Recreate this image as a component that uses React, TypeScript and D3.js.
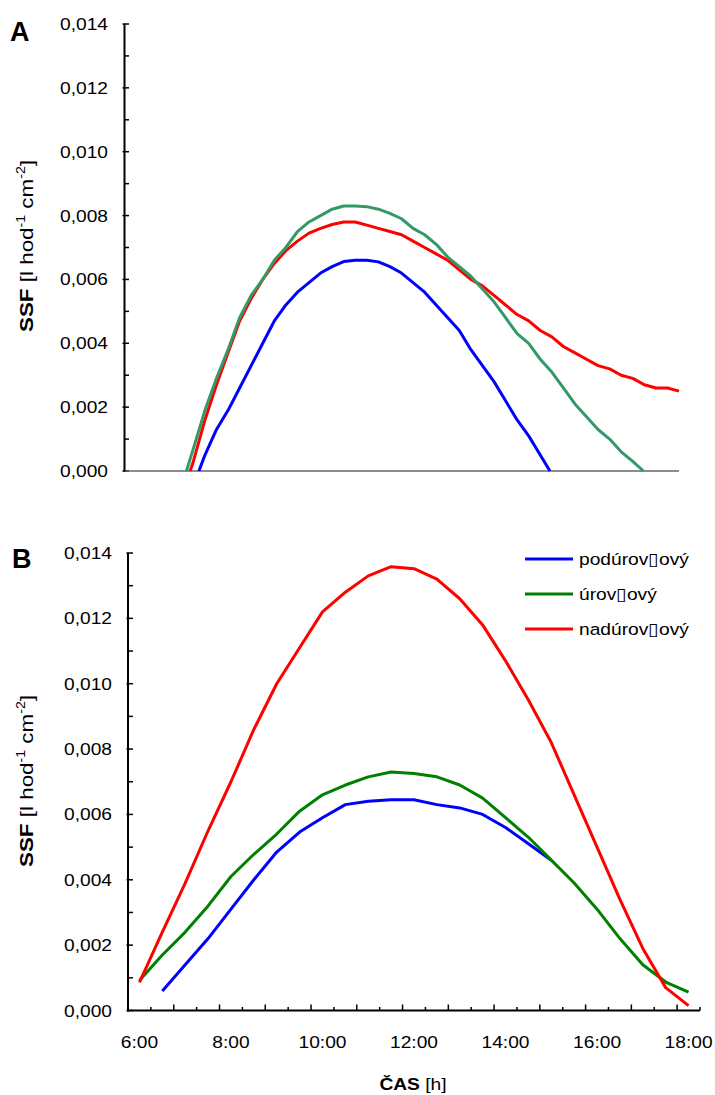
import * as d3 from "d3";
import React from "react";

const FONT = '"Liberation Sans", Arial, Helvetica, sans-serif';

// panel A: dense record, [hour of day, SSF]
const aPodurovny: [number, number][] = [
  [7.62, 0], [7.75, 0.0005], [8.0, 0.0013], [8.25, 0.0019], [8.5, 0.0026], [8.75, 0.0033],
  [9.0, 0.004], [9.25, 0.0047], [9.5, 0.0052], [9.75, 0.0056], [10.0, 0.0059], [10.25, 0.0062],
  [10.5, 0.0064], [10.75, 0.00656], [11.0, 0.0066], [11.25, 0.0066], [11.5, 0.00655],
  [11.75, 0.0064], [12.0, 0.0062], [12.25, 0.0059], [12.5, 0.0056], [12.75, 0.0052],
  [13.0, 0.0048], [13.25, 0.0044], [13.5, 0.0038], [13.75, 0.0033], [14.0, 0.0028],
  [14.25, 0.0022], [14.5, 0.0016], [14.75, 0.0011], [15.0, 0.0005], [15.21, 0],
];
const aUrovny: [number, number][] = [
  [7.35, 0], [7.5, 0.0007], [7.75, 0.0019], [8.0, 0.0029], [8.25, 0.0038], [8.5, 0.0048],
  [8.75, 0.0055], [9.0, 0.006], [9.25, 0.0066], [9.5, 0.007], [9.75, 0.0075], [10.0, 0.0078],
  [10.25, 0.008], [10.5, 0.0082], [10.75, 0.0083], [11.0, 0.0083], [11.25, 0.00828],
  [11.5, 0.0082], [11.75, 0.00807], [12.0, 0.0079], [12.25, 0.0076], [12.5, 0.0074],
  [12.75, 0.0071], [13.0, 0.0067], [13.25, 0.0064], [13.5, 0.0061], [13.75, 0.0057],
  [14.0, 0.0053], [14.25, 0.0048], [14.5, 0.0043], [14.75, 0.004], [15.0, 0.0035],
  [15.25, 0.0031], [15.5, 0.0026], [15.75, 0.0021], [16.0, 0.0017], [16.25, 0.0013],
  [16.5, 0.001], [16.75, 0.0006], [17.0, 0.0003], [17.23, 0],
];
const aNadurovny: [number, number][] = [
  [7.43, 0], [7.5, 0.0003], [7.75, 0.0016], [8.0, 0.0027], [8.25, 0.0037], [8.5, 0.0047],
  [8.75, 0.0054], [9.0, 0.006], [9.25, 0.0065], [9.5, 0.0069], [9.75, 0.0072], [10.0, 0.00745],
  [10.25, 0.0076], [10.5, 0.00772], [10.75, 0.0078], [11.0, 0.0078], [11.25, 0.0077],
  [11.5, 0.0076], [11.75, 0.0075], [12.0, 0.0074], [12.25, 0.0072], [12.5, 0.007],
  [12.75, 0.0068], [13.0, 0.0066], [13.25, 0.0063], [13.5, 0.006], [13.75, 0.0058],
  [14.0, 0.0055], [14.25, 0.0052], [14.5, 0.0049], [14.75, 0.0047], [15.0, 0.0044],
  [15.25, 0.0042], [15.5, 0.0039], [15.75, 0.0037], [16.0, 0.0035], [16.25, 0.0033],
  [16.5, 0.0032], [16.75, 0.003], [17.0, 0.0029], [17.25, 0.0027], [17.5, 0.0026],
  [17.75, 0.0026], [18.0, 0.0025],
];

// panel B: half-hourly categories
const timesB = [
  "6:00", "6:30", "7:00", "7:30", "8:00", "8:30", "9:00", "9:30", "10:00", "10:30", "11:00",
  "11:30", "12:00", "12:30", "13:00", "13:30", "14:00", "14:30", "15:00", "15:30", "16:00",
  "16:30", "17:00", "17:30", "18:00",
];
const bPodurovny: (number | null)[] = [
  null, 0.0006, 0.0014, 0.0022, 0.0031, 0.004, 0.00485, 0.00546, 0.0059, 0.0063, 0.0064,
  0.00645, 0.00645, 0.0063, 0.0062, 0.006, 0.0056, 0.0051, 0.0046,
];
const bUrovny = [
  0.00092, 0.0017, 0.0024, 0.0032, 0.0041, 0.00478, 0.0054, 0.0061, 0.0066, 0.0069, 0.00715,
  0.0073, 0.00725, 0.00715, 0.0069, 0.0065, 0.0059, 0.0053, 0.0046, 0.0039, 0.0031, 0.0022,
  0.0014, 0.00087, 0.00056,
];
const bNadurovny = [
  0.00086, 0.0024, 0.0039, 0.0055, 0.007, 0.0086, 0.01, 0.0111, 0.0122, 0.0128, 0.0133,
  0.01358, 0.01352, 0.0132, 0.0126, 0.0118, 0.0107, 0.0095, 0.0082, 0.0066, 0.005, 0.0034,
  0.0019, 0.0007, 0.00015,
];

const yMajor = [0, 0.002, 0.004, 0.006, 0.008, 0.01, 0.012, 0.014];
const yMinor = [0.001, 0.003, 0.005, 0.007, 0.009, 0.011, 0.013];
const xLabelsB = ["6:00", "8:00", "10:00", "12:00", "14:00", "16:00", "18:00"];
const legendNames = ["podúrov\u25AFový", "úrov\u25AFový", "nadúrov\u25AFový"];

const SX = 1.13; // glyphs in the picture are wider than Arial

const T = (props: any) => {
  const { x, y, rot = 0, anchor = "start", size = 17, weight = "normal", children } = props;
  return (
    <g transform={`translate(${x},${y}) rotate(${rot}) scale(${props.sx ?? SX},1)`}>
      <text textAnchor={anchor} fontSize={size} fontWeight={weight} fontFamily={FONT} fill="#000">
        {children}
      </text>
    </g>
  );
};

const YLabel = ({ x, y }: { x: number; y: number }) => (
  <g transform={`translate(${x},${y}) rotate(-90) scale(1.18,1)`}>
    <text textAnchor="middle" fontSize={19} fontFamily={FONT} fill="#000">
      <tspan fontWeight="bold">SSF</tspan>
      <tspan> [l hod</tspan>
      <tspan fontSize={12} dy={-8}>-1</tspan>
      <tspan dy={8}> cm</tspan>
      <tspan fontSize={12} dy={-8}>-2</tspan>
      <tspan dy={8}>]</tspan>
    </text>
  </g>
);

export default function App() {
  const W = 715, H = 1095;

  // panel A scales
  const xA = d3.scaleLinear([6, 18], [124, 679]);
  const yA = d3.scaleLinear([0, 0.014], [471, 24]);
  const lineA = d3
    .line<[number, number]>()
    .x((d) => xA(d[0]))
    .y((d) => yA(d[1]));

  // panel B scales
  const bandB = d3.scaleBand(timesB, [128, 700]).paddingInner(0).paddingOuter(0);
  const xB = (t: string) => (bandB(t) as number) + bandB.bandwidth() / 2;
  const yB = d3.scaleLinear([0, 0.014], [1010.5, 553]);
  const lineB = d3
    .line<number | null>()
    .defined((d) => d != null)
    .x((_, i) => xB(timesB[i]))
    .y((d) => yB(d as number));
  const bounds = [...timesB.map((t) => bandB(t) as number), 700];

  const fmt = (v: number) => v.toFixed(3).replace(".", ",");

  return (
    <svg width={W} height={H} style={{ position: "absolute", left: 0, top: 0, background: "#fff" }}>
      {/* ---------- A ---------- */}
      <T x={10} y={41} size={27} weight="bold" sx={1}>A</T>
      <YLabel x={33} y={246} />
      {yMajor.map((v) => (
        <g key={"am" + v}>
          <line x1={122.5} x2={129} y1={yA(v)} y2={yA(v)} stroke="#000" strokeWidth={1.5} />
          <T x={108} y={yA(v) + 6} anchor="end">{fmt(v)}</T>
        </g>
      ))}
      {yMinor.map((v) => (
        <line key={"an" + v} x1={124} x2={129} y1={yA(v)} y2={yA(v)} stroke="#000" strokeWidth={1.5} />
      ))}
      <line x1={124} x2={679} y1={yA(0)} y2={yA(0)} stroke="#666" strokeWidth={1.5} />
      <line x1={124.5} x2={124.5} y1={yA(0.014)} y2={yA(0) + 0.5} stroke="#000" strokeWidth={2} />
      <path d={lineA(aPodurovny) || ""} fill="none" stroke="#0000ff" strokeWidth={3} strokeLinejoin="round" />
      <path d={lineA(aNadurovny) || ""} fill="none" stroke="#ff0000" strokeWidth={3} strokeLinejoin="round" />
      <path d={lineA(aUrovny) || ""} fill="none" stroke="#339966" strokeWidth={3} strokeLinejoin="round" />

      {/* ---------- B ---------- */}
      <T x={12} y={568} size={27} weight="bold" sx={1}>B</T>
      <YLabel x={33} y={781} />
      {yMajor.map((v) => (
        <g key={"bm" + v}>
          <line x1={126.5} x2={133} y1={yB(v)} y2={yB(v)} stroke="#000" strokeWidth={1.5} />
          <T x={112} y={yB(v) + 6} anchor="end">{fmt(v)}</T>
        </g>
      ))}
      {yMinor.map((v) => (
        <line key={"bn" + v} x1={128} x2={133} y1={yB(v)} y2={yB(v)} stroke="#000" strokeWidth={1.5} />
      ))}
      {bounds.map((bx, i) => (
        <line key={"bx" + i} x1={bx} x2={bx} y1={yB(0)} y2={yB(0) - (i % 2 === 0 ? 6 : 3.5)} stroke="#000" strokeWidth={1.5} />
      ))}
      <line x1={127} x2={700} y1={yB(0)} y2={yB(0)} stroke="#000" strokeWidth={2} />
      <line x1={128} x2={128} y1={yB(0.014)} y2={yB(0) + 1} stroke="#000" strokeWidth={2} />
      {xLabelsB.map((t) => (
        <T key={"xl" + t} x={xB(t)} y={1048} anchor="middle">{t}</T>
      ))}
      <g transform="translate(413,1090) scale(1.13,1)">
        <text textAnchor="middle" fontSize={17} fontFamily={FONT} fill="#000">
          <tspan fontWeight="bold">ČAS</tspan>
          <tspan> [h]</tspan>
        </text>
      </g>
      <path d={lineB(bPodurovny) || ""} fill="none" stroke="#0000ff" strokeWidth={3} strokeLinejoin="round" />
      <path d={lineB(bUrovny) || ""} fill="none" stroke="#008000" strokeWidth={3} strokeLinejoin="round" />
      <path d={lineB(bNadurovny) || ""} fill="none" stroke="#ff0000" strokeWidth={3} strokeLinejoin="round" />

      {/* legend */}
      {legendNames.map((n, i) => (
        <g key={n}>
          <line x1={525} x2={573} y1={559 + i * 35} y2={559 + i * 35} stroke={["#0000ff", "#008000", "#ff0000"][i]} strokeWidth={3} />
          <T x={579} y={565 + i * 35}>{n}</T>
        </g>
      ))}
    </svg>
  );
}
